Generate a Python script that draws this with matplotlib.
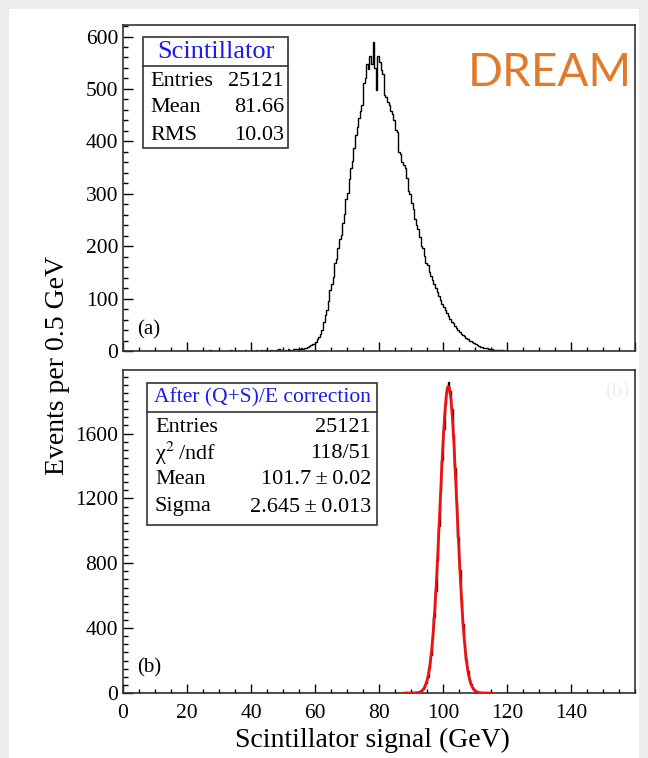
import numpy as np
import matplotlib
matplotlib.use("Agg")
import matplotlib.pyplot as plt
from matplotlib.patches import Rectangle
from matplotlib.ticker import MultipleLocator

plt.rcParams['font.family'] = ['Liberation Serif', 'DejaVu Serif']
plt.rcParams['mathtext.fontset'] = 'stix'

# --- Data ---
BIN = 0.5
X_MAX = 160

# (a) raw scintillator signal, bins of 0.5 GeV starting at 55.0 GeV
raw_start = 55.0
raw_counts = [
    3, 5, 4, 6, 5, 8, 9, 11, 13, 14,
    17, 22, 26, 33, 41, 55, 68, 79, 96, 117,
    128, 142, 168, 175, 196, 214, 222, 245, 262, 290,
    301, 328, 349, 362, 388, 412, 428, 445, 458, 470,
    512, 520, 547, 538, 562, 548, 590, 540, 498, 563,
    552, 536, 528, 488, 484, 476, 470, 458, 452, 440,
    422, 418, 380, 376, 360, 354, 350, 330, 306, 300,
    282, 270, 252, 240, 232, 218, 200, 196, 182, 168,
    164, 150, 143, 135, 128, 120, 112, 104, 97, 90,
    84, 78, 72, 66, 62, 56, 53, 48, 44, 40,
    37, 33, 30, 28, 25, 22, 20, 19, 18, 15,
    13, 11, 10, 8, 7, 6, 5, 5, 4, 3,
    3, 2, 2, 2, 1, 2, 1, 1,
]
# sparse low-energy tail of (a)
tail_edges = [27.0, 33.5, 38.0, 41.5, 43.0, 44.5, 46.0, 47.5, 48.5, 49.5,
              50.5, 51.5, 52.0, 53.0, 53.5, 54.0, 54.5]
tail_counts = [1, 1, 2, 1, 2, 1, 2, 1, 3, 2, 2, 3, 2, 3, 4, 3, 4]

# (b) corrected signal, bins of 0.5 GeV starting at 88.0 GeV
corr_start = 88.0
corr_counts = [
    0, 1, 0, 1, 1, 2, 2, 4, 5, 8,
    14, 22, 38, 64, 100, 152, 232, 330, 470, 628,
    818, 1030, 1240, 1440, 1630, 1780, 1880, 1915, 1860, 1750,
    1590, 1390, 1180, 965, 760, 580, 428, 300, 206, 136,
    88, 56, 34, 20, 12, 7, 4, 3, 2, 1, 1,
]

# Gaussian fit curve (red), read at 0.5 GeV steps
fit_x = [88, 88.5, 89, 89.5, 90, 90.5, 91, 91.5, 92, 92.5, 93, 93.5, 94, 94.5,
         95, 95.5, 96, 96.5, 97, 97.5, 98, 98.5, 99, 99.5, 100, 100.5, 101,
         101.5, 102, 102.5, 103, 103.5, 104, 104.5, 105, 105.5, 106, 106.5,
         107, 107.5, 108, 108.5, 109, 109.5, 110, 110.5, 111, 111.5, 112,
         112.5, 113, 113.5, 114, 114.5, 115]
fit_y = [0, 0, 0, 0, 0, 0.5, 1, 1.5, 2, 4, 8, 16, 27, 47,
         77, 121, 186, 274, 391, 537, 712, 911, 1125, 1341, 1541, 1709, 1830,
         1890, 1883, 1810, 1679, 1503, 1298, 1082, 870, 675, 506, 365,
         254, 171, 111, 70, 42, 25, 14, 7.5, 4, 2, 1,
         0.5, 0, 0, 0, 0, 0]

stats_a = [("Entries", "25121"), ("Mean", "81.66"), ("RMS", "10.03")]
stats_b = [("Entries", "25121"), ("\u03c7$^{2}$\u2009/ndf", "118/51"),
           ("Mean", "101.7\u2009\u00b1\u20090.02"), ("Sigma", "2.645\u2009\u00b1\u20090.013")]

xticks = [0, 20, 40, 60, 80, 100, 120, 140]

# --- build full histograms on 0..160 ---
edges = np.arange(0, X_MAX + BIN / 2, BIN)
h_raw = np.zeros(len(edges) - 1)
i0 = int(round(raw_start / BIN))
h_raw[i0:i0 + len(raw_counts)] = raw_counts
for e, c in zip(tail_edges, tail_counts):
    h_raw[int(round(e / BIN))] = c
h_corr = np.zeros(len(edges) - 1)
j0 = int(round(corr_start / BIN))
h_corr[j0:j0 + len(corr_counts)] = corr_counts

# --- figure ---
W, H = 648, 758
fig = plt.figure(figsize=(W / 100, H / 100), dpi=100, facecolor='#ededed')
card = Rectangle((9 / W, 0), 630 / W, 1 - 9 / H, transform=fig.transFigure,
                 facecolor='white', edgecolor='none', zorder=-10)
fig.patches.append(card)


def fx(x):
    return x / W


def fy(y):
    return 1 - y / H


left, right = 123, 635
ax1 = fig.add_axes([fx(left), fy(351), fx(right - left), (351 - 25) / H])
ax2 = fig.add_axes([fx(left), fy(693), fx(right - left), (693 - 370) / H])

ax1.stairs(h_raw, edges, color='black', lw=1.0)
ax2.stairs(h_corr, edges, color='black', lw=1.0)
ax2.plot(fit_x, fit_y, color='#ee1111', lw=2.0, zorder=3)

ax1.set_ylim(0, 622)
ax2.set_ylim(0, 1992)
for ax in (ax1, ax2):
    ax.set_facecolor('none')
    ax.set_xlim(0, X_MAX)
    ax.xaxis.set_major_locator(MultipleLocator(20))
    ax.xaxis.set_minor_locator(MultipleLocator(5))
    ax.tick_params(axis='x', which='major', direction='in', length=6.5, width=1,
                   top=False, labelsize=15.5, pad=8)
    ax.tick_params(axis='x', which='minor', direction='in', length=3.2, width=1, top=False)
    ax.tick_params(axis='y', which='major', direction='in', length=7.5, width=1,
                   right=False, labelsize=15.5, pad=3.5)
    ax.tick_params(axis='y', which='minor', direction='in', length=3.7, width=1, right=False)
    for s in ax.spines.values():
        s.set_color('#333333')
        s.set_linewidth(1.2)

ax1.yaxis.set_major_locator(MultipleLocator(100))
ax1.yaxis.set_minor_locator(MultipleLocator(20))
ax2.yaxis.set_major_locator(MultipleLocator(400))
ax2.yaxis.set_minor_locator(MultipleLocator(50))
ax1.tick_params(axis='x', labelbottom=False)
ax2.set_xticks(xticks)
ax2.set_xticklabels([str(t) for t in xticks])

# panel tags
fig.text(fx(137), fy(330), "(a)", fontsize=15, va='center', ha='left')
fig.text(fx(137), fy(668), "(b)", fontsize=15, va='center', ha='left')
fig.text(fx(617), fy(392), "(b)", fontsize=15, va='center', ha='center', color='#eeeeee')

# axis titles
fig.text(fx(58), fy(365), "Events per 0.5 GeV", rotation=90, fontsize=20,
         ha='center', va='center')
fig.text(fx(372), fy(740), "Scintillator signal (GeV)", fontsize=20,
         ha='center', va='center')

# DREAM logo text
fig.text(fx(468), fy(86), "DREAM", fontsize=33, color='#e27a2a',
         family=['Lato', 'DejaVu Sans'], fontweight='normal', ha='left', va='baseline')


def stats_box(x0, y0, x1, y1, ydiv, title, title_size, rows, row_y, lab_x, val_x):
    fig.patches.append(Rectangle((fx(x0), fy(y1)), (x1 - x0) / W, (y1 - y0) / H,
                                 transform=fig.transFigure, facecolor='white',
                                 edgecolor='#333333', lw=1.2, zorder=5))
    fig.add_artist(plt.Line2D([fx(x0), fx(x1)], [fy(ydiv), fy(ydiv)],
                              transform=fig.transFigure, color='#333333', lw=1.2, zorder=6))
    fig.text(fx((x0 + x1) / 2), fy((y0 + ydiv) / 2), title, color='#1a1aee',
             fontsize=title_size, ha='center', va='center', zorder=7)
    for (lab, val), yy in zip(rows, row_y):
        fig.text(fx(lab_x), fy(yy), lab, fontsize=16, ha='left', va='center', zorder=7)
        fig.text(fx(val_x), fy(yy), val, fontsize=16, ha='right', va='center', zorder=7)


stats_box(143, 37, 288, 148, 66, "Scintillator", 19, stats_a, [82, 108, 135], 150, 284)
stats_box(147, 383, 377, 525, 412, "After (Q+S)/E correction", 15.5, stats_b,
          [428, 453, 479, 507], 155, 371)

fig.savefig("out.png", dpi=100)
